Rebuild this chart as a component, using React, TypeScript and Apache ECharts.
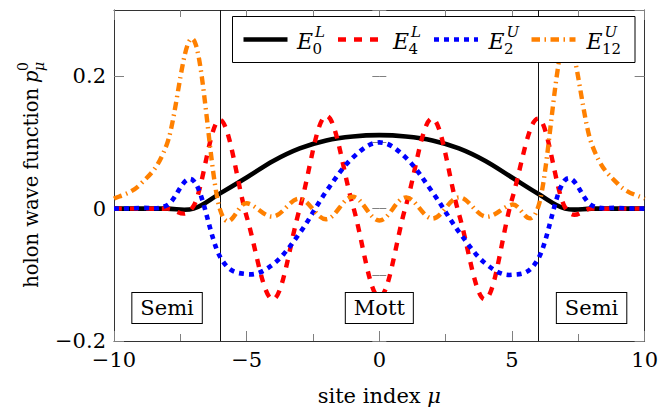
import React, { useEffect, useRef } from 'react';
import * as echarts from 'echarts';

// ---- data ----
const sites = [-10, -9, -8, -7, -6, -5, -4, -3, -2, -1, 0, 1, 2, 3, 4, 5, 6, 7, 8, 9, 10];
const psiE0L = [0, 0, 0, 0, 0.023, 0.047, 0.072, 0.091, 0.103, 0.109, 0.111, 0.109, 0.103, 0.091, 0.072, 0.047, 0.022, 0, 0, 0, 0];
const psiE4L = [0, 0, 0, 0.004, 0.134, -0.012, -0.137, 0.0, 0.14, 0.005, -0.134, 0.004, 0.136, -0.008, -0.137, 0.014, 0.136, 0.002, 0, 0, 0];
const psiE2U = [0, 0.001, 0.005, 0.042, -0.073, -0.099, -0.084, -0.037, 0.026, 0.077, 0.1, 0.077, 0.025, -0.035, -0.083, -0.1, -0.075, 0.043, 0.005, 0.001, 0];
const psiE12U = [0.015, 0.037, 0.098, 0.255, -0.002, 0.008, -0.012, 0.015, -0.016, 0.018, -0.018, 0.017, -0.015, 0.017, -0.012, 0.006, 0.004, 0.255, 0.098, 0.037, 0.015];

const seriesNames = ['E0L', 'E4L', 'E2U', 'E12U'];
const legendMain = ['E', 'E', 'E', 'E'];
const legendSub = ['0', '4', '2', '12'];
const legendSup = ['L', 'L', 'U', 'U'];

const boundaryX = [-6, 6];
const regionNames = ['Semi', 'Mott', 'Semi'];
const regionCenters = [-8, 0, 8];
const regionLabelY = -0.15;

const xMin = -10, xMax = 10, xStep = 5;
const yMin = -0.2, yMax = 0.3, yStep = 0.2, yMinorStep = 0.1;

const FONT = '"DejaVu Serif", serif';
const SMOOTH = 0.18; // cardinal-spline support factor (like pgfplots "smooth")

const lineStyles = [
  { color: '#000000', width: 4.6, dash: null as number[] | null },
  { color: '#ff0000', width: 4.4, dash: [8, 8] },
  { color: '#0000ff', width: 4.6, dash: [5, 5] },
  { color: '#ff8000', width: 4.4, dash: [8.5, 4.5, 1.5, 4.5] },
];

const allSeriesValues = [psiE0L, psiE4L, psiE2U, psiE12U];

const fmtMinus = (v: number) => {
  if (Math.abs(v) < 1e-9) return '0';
  const s = String(Math.abs(Math.round(v * 1000) / 1000));
  return v < 0 ? '\u2212' + s : s;
};

const f2 = (n: number) => n.toFixed(2);

export default function App() {
  const ref = useRef<HTMLDivElement>(null);
  useEffect(() => {
    if (!ref.current) return;
    const chart = echarts.init(ref.current, undefined, { renderer: 'svg' });

    const tickColor = '#808080';
    const frameColor = '#333333';

    const xCommon = {
      type: 'value' as const,
      min: xMin,
      max: xMax,
      interval: xStep,
      splitLine: { show: false },
      axisLine: { show: true, onZero: false, lineStyle: { color: frameColor, width: 1 } },
      axisTick: { show: true, inside: true, length: 10, lineStyle: { color: tickColor, width: 1 } },
      minorTick: { show: true, splitNumber: 2, length: 7, lineStyle: { color: tickColor, width: 1 } },
    };

    const yMajor = {
      type: 'value' as const,
      min: yMin,
      max: yMax,
      interval: yStep,
      splitLine: { show: false },
      axisLine: { show: true, onZero: false, lineStyle: { color: frameColor, width: 1 } },
      axisTick: { show: true, inside: true, length: 10, lineStyle: { color: tickColor, width: 1 } },
    };
    const yMinor = {
      type: 'value' as const,
      min: yMin,
      max: yMax,
      interval: yMinorStep,
      splitLine: { show: false },
      axisLine: { show: false },
      axisLabel: { show: false },
      axisTick: { show: true, inside: true, length: 7, lineStyle: { color: tickColor, width: 1 } },
    };

    const makeRender = (vals: number[], i: number) => (params: any, api: any) => {
      if (params.dataIndex !== 0) return null;
      const pts = sites.map((x, k) => api.coord([x, vals[k]]) as number[]);
      let d = `M${f2(pts[0][0])},${f2(pts[0][1])}`;
      for (let k = 0; k < pts.length - 1; k++) {
        const p0 = pts[k - 1] || pts[k];
        const p1 = pts[k];
        const p2 = pts[k + 1];
        const p3 = pts[k + 2] || pts[k + 1];
        const c1x = p1[0] + SMOOTH * (p2[0] - p0[0]);
        const c1y = p1[1] + SMOOTH * (p2[1] - p0[1]);
        const c2x = p2[0] - SMOOTH * (p3[0] - p1[0]);
        const c2y = p2[1] - SMOOTH * (p3[1] - p1[1]);
        d += ` C${f2(c1x)},${f2(c1y)} ${f2(c2x)},${f2(c2y)} ${f2(p2[0])},${f2(p2[1])}`;
      }
      const ls = lineStyles[i];
      return {
        type: 'path',
        shape: { pathData: d },
        style: {
          fill: 'none',
          stroke: ls.color,
          lineWidth: ls.width,
          lineDash: ls.dash || null,
          lineCap: 'butt',
          lineJoin: 'round',
        },
      };
    };

    const series: any[] = allSeriesValues.map((vals, i) => ({
      type: 'custom',
      name: seriesNames[i],
      data: sites.map((x, k) => [x, vals[k]]),
      xAxisIndex: 0,
      yAxisIndex: 0,
      renderItem: makeRender(vals, i),
      silent: true,
      z: 3 + i,
    }));

    // helper (invisible) series carrying the region boundaries and region labels
    series.push({
      type: 'line',
      name: 'boundaries',
      data: sites.map((x, k) => [x, psiE0L[k]]),
      symbol: 'none',
      lineStyle: { opacity: 0 },
      silent: true,
      z: 1,
      markLine: {
        silent: true,
        symbol: ['none', 'none'],
        label: { show: false },
        lineStyle: { color: '#111', width: 1, type: 'solid' },
        data: boundaryX.map((x) => ({ xAxis: x })),
      },
    });
    series.push({
      type: 'line',
      name: 'regions',
      data: sites.map((x, k) => [x, psiE0L[k]]),
      symbol: 'none',
      lineStyle: { opacity: 0 },
      silent: true,
      z: 20,
      markPoint: {
        silent: true,
        symbol: 'rect',
        symbolSize: 1,
        itemStyle: { color: 'rgba(0,0,0,0)' },
        label: {
          show: true,
          position: 'inside',
          formatter: '{b}',
          color: '#000',
          fontFamily: FONT,
          fontSize: 21,
          backgroundColor: '#fff',
          borderColor: '#000',
          borderWidth: 1,
          padding: [5, 8, 4, 8],
        },
        data: regionNames.map((n, i) => ({ name: n, coord: [regionCenters[i], regionLabelY] })),
      },
    });

    // legend drawn as graphic (with stacked sub/superscripts)
    const legBox = { x: 232.5, y: 16.5, w: 402.5, h: 46 };
    const sampleX = [243.5, 338, 434, 531.5];
    const labelX = [297, 393, 488.5, 586.5];
    const legY = 39.5;
    const Z = 100;
    const legendChildren: any[] = [
      {
        type: 'rect',
        z: Z,
        shape: { x: legBox.x, y: legBox.y, width: legBox.w, height: legBox.h },
        style: { fill: '#fff', stroke: '#000', lineWidth: 1 },
      },
    ];
    lineStyles.forEach((ls, i) => {
      legendChildren.push({
        type: 'line',
        z: Z + 1,
        shape: { x1: sampleX[i], y1: legY, x2: sampleX[i] + 44, y2: legY },
        style: { stroke: ls.color, lineWidth: ls.width, lineDash: ls.dash || null, lineCap: 'butt' },
      });
      legendChildren.push({
        type: 'text',
        z: Z + 1,
        x: labelX[i],
        y: 41,
        style: { text: legendMain[i], fontFamily: FONT, fontStyle: 'italic', fontSize: 22, fill: '#000', verticalAlign: 'middle', align: 'left' },
      });
      legendChildren.push({
        type: 'text',
        z: Z + 1,
        x: labelX[i] + 15.5,
        y: 49,
        style: { text: legendSub[i], fontFamily: FONT, fontSize: 15, fill: '#000', verticalAlign: 'middle', align: 'left' },
      });
      legendChildren.push({
        type: 'text',
        z: Z + 1,
        x: labelX[i] + 18,
        y: 31.5,
        style: { text: legendSup[i], fontFamily: FONT, fontStyle: 'italic', fontSize: 15, fill: '#000', verticalAlign: 'middle', align: 'left' },
      });
    });

    const yTitle = {
      type: 'group',
      x: 31,
      y: 88,
      rotation: Math.PI / 2,
      children: [
        { type: 'text', x: 0, y: 0, style: { text: 'holon wave function', fontFamily: FONT, fontSize: 19.5, fill: '#000', align: 'right', verticalAlign: 'middle' } },
        { type: 'text', x: 5, y: 0, style: { text: 'p', fontFamily: FONT, fontStyle: 'italic', fontSize: 19.5, fill: '#000', align: 'left', verticalAlign: 'middle' } },
        { type: 'text', x: 17, y: -8, style: { text: '0', fontFamily: FONT, fontSize: 14, fill: '#000', align: 'left', verticalAlign: 'middle' } },
        { type: 'text', x: 17, y: 8, style: { text: '\u03bc', fontFamily: FONT, fontStyle: 'italic', fontSize: 14, fill: '#000', align: 'left', verticalAlign: 'middle' } },
      ],
    };

    chart.setOption({
      animation: false,
      backgroundColor: '#fff',
      grid: { left: 114, right: 13, top: 10, bottom: 64, containLabel: false },
      xAxis: [
        {
          ...xCommon,
          position: 'bottom',
          name: 'site index {m|\u03bc}',
          nameLocation: 'middle',
          nameGap: 44,
          nameTextStyle: {
            fontFamily: FONT, fontSize: 21, color: '#000',
            rich: { m: { fontFamily: FONT, fontSize: 21, fontStyle: 'italic', color: '#000' } },
          },
          axisLabel: { show: true, margin: 8, fontFamily: FONT, fontSize: 21, color: '#000', formatter: fmtMinus },
        },
        { ...xCommon, position: 'top', axisLabel: { show: false } },
      ],
      yAxis: [
        {
          ...yMajor,
          position: 'left',
          axisLabel: { show: true, margin: 8, fontFamily: FONT, fontSize: 21, color: '#000', showMaxLabel: false, formatter: fmtMinus },
        },
        { ...yMajor, position: 'right', axisLabel: { show: false } },
        { ...yMinor, position: 'left' },
        { ...yMinor, position: 'right' },
      ],
      series,
      graphic: [
        { type: 'group', children: legendChildren },
        yTitle,
      ],
    });

    return () => chart.dispose();
  }, []);

  return <div ref={ref} style={{ width: 661, height: 411, position: 'absolute', left: 0, top: 0 }} />;
}
